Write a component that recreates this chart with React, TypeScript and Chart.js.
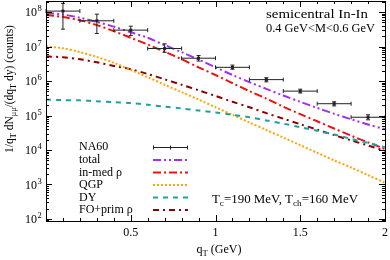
import React, { useEffect, useRef } from 'react';
import { Chart, registerables } from 'chart.js';

Chart.register(...registerables);

// ---------- data ----------
const qT = [0, 0.1, 0.2, 0.3, 0.4, 0.5, 0.6, 0.7, 0.8, 0.9, 1.0, 1.1, 1.2, 1.3, 1.4, 1.5, 1.6, 1.7, 1.8, 1.9, 2.0];
const totalY = [9.5e7, 8.5e7, 6.9e7, 5.2e7, 3.8e7, 2.6e7, 1.8e7, 1.1e7, 6.9e6, 4.2e6, 2.5e6, 1.5e6, 9.3e5, 5.9e5, 3.8e5, 2.5e5, 1.66e5, 1.12e5, 7.8e4, 5.5e4, 4.0e4];
const inMedRhoY = [8.3e7, 7.2e7, 5.8e7, 4.2e7, 2.8e7, 1.8e7, 1.15e7, 7.1e6, 4.3e6, 2.5e6, 1.5e6, 8.7e5, 5.1e5, 3.1e5, 1.8e5, 1.1e5, 6.8e4, 4.2e4, 2.6e4, 1.66e4, 1.07e4];
const qgpY = [1.02e7, 8.9e6, 6.9e6, 5.0e6, 3.4e6, 2.1e6, 1.3e6, 7.8e5, 4.8e5, 2.9e5, 1.74e5, 1.05e5, 6.3e4, 3.8e4, 2.3e4, 1.38e4, 8.3e3, 5.0e3, 3.1e3, 1.86e3, 1.12e3];
const dyY = [2.9e5, 2.8e5, 2.75e5, 2.6e5, 2.45e5, 2.3e5, 2.05e5, 1.8e5, 1.6e5, 1.4e5, 1.23e5, 1.05e5, 8.9e4, 7.2e4, 5.8e4, 4.6e4, 3.6e4, 2.8e4, 2.1e4, 1.6e4, 1.2e4];
const foPrimY = [5.2e6, 4.9e6, 4.3e6, 3.5e6, 2.75e6, 2.2e6, 1.6e6, 1.12e6, 7.8e5, 5.4e5, 3.7e5, 2.5e5, 1.74e5, 1.17e5, 8.1e4, 5.6e4, 3.9e4, 2.7e4, 1.9e4, 1.35e4, 9.5e3];

const na60X = [0.1, 0.3, 0.5, 0.7, 0.9, 1.1, 1.3, 1.5, 1.7, 1.9];
const na60XErr = [0.1, 0.1, 0.1, 0.1, 0.1, 0.1, 0.1, 0.1, 0.1, 0.1];
const na60Y = [1.07e8, 5.6e7, 3.0e7, 8.8e6, 4.6e6, 2.5e6, 1.1e6, 5.1e5, 2.2e5, 8.9e4];
const na60Lo = [3.2e7, 2.4e7, 2.1e7, 6.8e6, 3.8e6, 2.2e6, 9.5e5, 4.5e5, 1.9e5, 7.5e4];
const na60Hi = [1.8e8, 8.7e7, 3.9e7, 1.2e7, 5.5e6, 2.9e6, 1.25e6, 5.8e5, 2.5e5, 1.05e5];

const xTickValues = [0.5, 1, 1.5, 2];
const xTickLabels = ['0.5', '1', '1.5', '2'];
const yTickExponents = [2, 3, 4, 5, 6, 7, 8];

const legendLabels = ['NA60', 'total', 'in-med \u03c1', 'QGP', 'DY', 'FO+prim \u03c1'];

const FONT = '"Liberation Serif", "DejaVu Serif", serif';

const styles = {
  total: { color: '#a030f0', dash: [8, 3, 2, 3, 2, 3] },
  inmed: { color: '#f01010', dash: [8, 3, 2, 3] },
  qgp: { color: '#ffa500', dash: [2, 2] },
  dy: { color: '#20a0a0', dash: [5, 5] },
  fo: { color: '#8b0000', dash: [6, 4, 2, 4] },
};

type Part = [string, 'n' | 'sub' | 'sup'];

function drawParts(ctx: CanvasRenderingContext2D, parts: Part[], x: number, y: number, size: number) {
  let cx = x;
  for (const [t, k] of parts) {
    const s = k === 'n' ? size : size * 0.72;
    ctx.font = `${s}px ${FONT}`;
    const dy = k === 'sub' ? size * 0.3 : k === 'sup' ? -size * 0.4 : 0;
    ctx.fillText(t, cx, y + dy);
    cx += ctx.measureText(t).width;
  }
  return cx - x;
}
function measureParts(ctx: CanvasRenderingContext2D, parts: Part[], size: number) {
  let w = 0;
  for (const [t, k] of parts) {
    const s = k === 'n' ? size : size * 0.72;
    ctx.font = `${s}px ${FONT}`;
    w += ctx.measureText(t).width;
  }
  return w;
}
function drawPartsFit(ctx: CanvasRenderingContext2D, parts: Part[], x: number, y: number, size: number, width: number) {
  const w = measureParts(ctx, parts, size);
  ctx.save();
  ctx.translate(x, y);
  ctx.scale(width / w, 1);
  drawParts(ctx, parts, 0, 0, size);
  ctx.restore();
}

const decorPlugin = {
  id: 'decor',
  afterDatasetsDraw(chart: any) {
    const ctx: CanvasRenderingContext2D = chart.ctx;
    const xs = chart.scales.x;
    const ys = chart.scales.y;
    const { left, right, top, bottom } = chart.chartArea;
    ctx.save();

    // NA60 error bars
    ctx.strokeStyle = '#222';
    ctx.lineWidth = 1;
    ctx.setLineDash([]);
    for (let i = 0; i < na60X.length; i++) {
      const x0 = xs.getPixelForValue(na60X[i] - na60XErr[i]);
      const x1 = xs.getPixelForValue(na60X[i] + na60XErr[i]);
      const xc = xs.getPixelForValue(na60X[i]);
      const yc = ys.getPixelForValue(na60Y[i]);
      const yl = Math.min(bottom, ys.getPixelForValue(na60Lo[i]));
      const yh = Math.max(top, ys.getPixelForValue(na60Hi[i]));
      ctx.beginPath();
      ctx.moveTo(x0, yc); ctx.lineTo(x1, yc);
      ctx.moveTo(x0, yc - 2); ctx.lineTo(x0, yc + 2);
      ctx.moveTo(x1, yc - 2); ctx.lineTo(x1, yc + 2);
      ctx.moveTo(xc, yl); ctx.lineTo(xc, yh);
      ctx.moveTo(xc - 2, yl); ctx.lineTo(xc + 2, yl);
      ctx.moveTo(xc - 2, yh); ctx.lineTo(xc + 2, yh);
      ctx.stroke();
      ctx.fillStyle = '#222';
      ctx.fillRect(xc - 1.5, yc - 1.5, 3, 3);
    }

    // frame
    ctx.strokeStyle = '#000';
    ctx.lineWidth = 1;
    ctx.strokeRect(Math.round(left) + 0.5, Math.round(top) + 0.5, Math.round(right - left), Math.round(bottom - top));

    // x ticks
    ctx.beginPath();
    for (let k = 0; k <= 20; k++) {
      const v = k / 10;
      const px = Math.round(xs.getPixelForValue(v)) + 0.5;
      const len = k % 5 === 0 ? 6 : 3;
      ctx.moveTo(px, bottom); ctx.lineTo(px, bottom - len);
      ctx.moveTo(px, top); ctx.lineTo(px, top + len);
    }
    // y ticks
    for (let e = 1; e <= 8; e++) {
      for (let m = 1; m <= 9; m++) {
        const v = m * Math.pow(10, e);
        if (v < ys.min || v > ys.max) continue;
        const py = Math.round(ys.getPixelForValue(v)) + 0.5;
        const len = m === 1 ? 6 : 3;
        ctx.moveTo(left, py); ctx.lineTo(left + len, py);
        ctx.moveTo(right, py); ctx.lineTo(right - len, py);
      }
    }
    ctx.stroke();

    ctx.fillStyle = '#000';
    // x tick labels
    ctx.font = `12px ${FONT}`;
    ctx.textAlign = 'center';
    ctx.textBaseline = 'middle';
    xTickValues.forEach((v, i) => {
      ctx.fillText(xTickLabels[i], xs.getPixelForValue(v), 233);
    });
    // y tick labels
    ctx.textBaseline = 'middle';
    yTickExponents.forEach((e) => {
      const py = ys.getPixelForValue(Math.pow(10, e));
      ctx.font = `12px ${FONT}`;
      ctx.textAlign = 'right';
      ctx.fillText('10', 37, py + 1);
      ctx.font = `8.5px ${FONT}`;
      ctx.textAlign = 'left';
      ctx.fillText(String(e), 37.5, py - 3);
    });

    // axis titles
    ctx.textAlign = 'left';
    ctx.textBaseline = 'middle';
    const xt: Part[] = [['q', 'n'], ['T', 'sub'], [' (GeV)', 'n']];
    const xw = measureParts(ctx, xt, 12);
    drawParts(ctx, xt, 219 - xw / 2, 250, 12);

    const yt: Part[] = [['1/q', 'n'], ['T', 'sub'], [' dN', 'n'], ['\u03bc\u03bc', 'sub'], ['/(dq', 'n'], ['T', 'sub'], [' dy) (counts)', 'n']];
    const yw = measureParts(ctx, yt, 11.5);
    ctx.save();
    ctx.translate(10, 89);
    ctx.rotate(-Math.PI / 2);
    drawParts(ctx, yt, -yw / 2, 0, 11.5);
    ctx.restore();

    // annotations
    drawPartsFit(ctx, [['semicentral In-In', 'n']], 266, 15, 12.5, 102);
    drawPartsFit(ctx, [['0.4 GeV<M<0.6 GeV', 'n']], 266, 29, 12, 109);
    drawPartsFit(ctx, [['T', 'n'], ['c', 'sub'], ['=190 MeV, T', 'n'], ['ch', 'sub'], ['=160 MeV', 'n']], 212, 200, 12, 146);

    // legend
    const ly = [147, 160, 172.5, 185, 197.5, 210];
    ctx.font = `12px ${FONT}`;
    legendLabels.forEach((lab, i) => {
      ctx.fillStyle = '#000';
      ctx.fillText(lab, 79, ly[i]);
    });
    const sx0 = 153, sx1 = 188;
    // NA60 sample
    ctx.strokeStyle = '#222';
    ctx.setLineDash([]);
    ctx.beginPath();
    const yy = Math.round(ly[0]) + 0.5;
    ctx.moveTo(sx0, yy); ctx.lineTo(sx1, yy);
    ctx.moveTo(sx0 + 0.5, yy - 2); ctx.lineTo(sx0 + 0.5, yy + 2);
    ctx.moveTo(sx1 - 0.5, yy - 2); ctx.lineTo(sx1 - 0.5, yy + 2);
    ctx.moveTo((sx0 + sx1) / 2, yy - 2); ctx.lineTo((sx0 + sx1) / 2, yy + 2);
    ctx.stroke();
    const sts = [styles.total, styles.inmed, styles.qgp, styles.dy, styles.fo];
    sts.forEach((st, i) => {
      ctx.strokeStyle = st.color;
      ctx.lineWidth = 2;
      ctx.setLineDash(st.dash);
      ctx.beginPath();
      ctx.moveTo(sx0, ly[i + 1]);
      ctx.lineTo(sx1, ly[i + 1]);
      ctx.stroke();
    });
    ctx.restore();
  },
};

function App() {
  const ref = useRef<HTMLCanvasElement | null>(null);
  useEffect(() => {
    document.body.style.margin = '0';
    const mk = (arr: number[]) => qT.map((x, i) => ({ x, y: arr[i] }));
    const ds = (label: string, arr: number[], st: { color: string; dash: number[] }) => ({
      label,
      data: mk(arr),
      borderColor: st.color,
      borderWidth: 2,
      borderDash: st.dash,
      pointRadius: 0,
      fill: false,
      tension: 0.3,
    });
    const chart = new Chart(ref.current as HTMLCanvasElement, {
      type: 'line',
      data: {
        datasets: [
          ds('DY', dyY, styles.dy),
          ds('QGP', qgpY, styles.qgp),
          ds('FO+prim \u03c1', foPrimY, styles.fo),
          ds('in-med \u03c1', inMedRhoY, styles.inmed),
          ds('total', totalY, styles.total),
        ] as any,
      },
      options: {
        responsive: false,
        animation: false,
        layout: { padding: { left: 46, right: 5, top: 1, bottom: 39 } },
        scales: {
          x: { type: 'linear', min: 0, max: 2, display: false },
          y: { type: 'logarithmic', min: 87, max: 2.1e8, display: false },
        },
        plugins: { legend: { display: false }, tooltip: { enabled: false } },
      },
      plugins: [decorPlugin],
    });
    return () => chart.destroy();
  }, []);
  return (
    <div style={{ position: 'fixed', left: 0, top: 0, width: 390, height: 260, background: '#fff' }}>
      <canvas ref={ref} width={390} height={260} />
    </div>
  );
}

export default App;
